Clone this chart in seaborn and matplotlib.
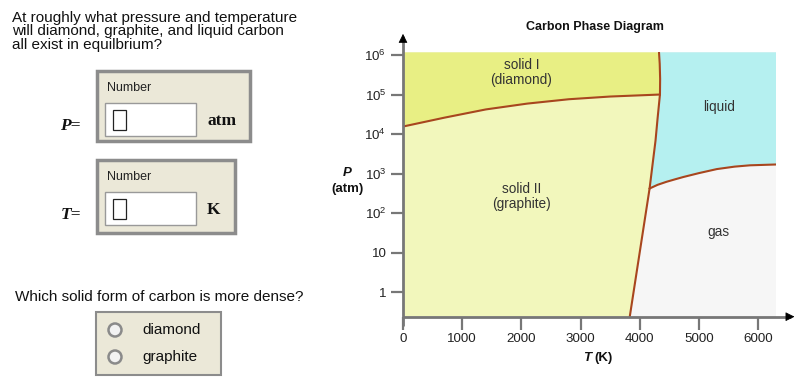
import numpy as np
import pandas as pd
import matplotlib
matplotlib.use("Agg")
import matplotlib.pyplot as plt
from matplotlib.patches import Rectangle, Circle
import seaborn as sns

sns.set_style("white")
plt.rcParams['font.family'] = ['Liberation Sans', 'DejaVu Sans']
plt.rcParams['mathtext.fontset'] = 'custom'
plt.rcParams['mathtext.rm'] = 'Liberation Sans'

# phase boundaries (T in K, P in atm)
diam_graph_T = [0, 700, 1400, 2100, 2800, 3500, 4340]
diam_graph_P = [15500, 26000, 42000, 59000, 76000, 89000, 100000]
diam_liq_T = [4340, 4343, 4336, 4324]
diam_liq_P = [100000, 250000, 600000, 1170000]
graph_liq_T = [4340, 4300, 4265, 4215, 4165]
graph_liq_P = [100000, 25000, 6800, 1700, 420]
graph_gas_T = [4165, 3830]
graph_gas_P = [420, 0.24]
liq_gas_T = [4165, 4300, 4450, 4600, 4735, 5000, 5300, 5600, 5860, 6300]
liq_gas_P = [420, 520, 620, 720, 820, 1030, 1300, 1500, 1620, 1700]

t_max = 6300
p_min, p_max = 0.24, 1170000

x_ticks = [0, 1000, 2000, 3000, 4000, 5000, 6000]
y_ticks = [1, 10, 100, 1000, 10000, 100000, 1000000]
y_labels = ["1", "10", "$10^2$", "$10^3$", "$10^4$", "$10^5$", "$10^6$"]

region_names = ["solid I\n(diamond)", "solid II\n(graphite)", "liquid", "gas"]
region_T = [2000, 2000, 5340, 5320]
region_P = [370000, 260, 47000, 33]

c_diamond = "#e8ef84"
c_graphite = "#f2f7bc"
c_liquid = "#b5f0f0"
c_gas = "#f6f6f6"
c_line = "#a8461e"
c_axis = "#777777"

W, H = 801, 388
fig = plt.figure(figsize=(W / 100, H / 100), dpi=100)

# ---- left side: question form, drawn in pixel coordinates ----
bg = fig.add_axes([0, 0, 1, 1])
bg.set_xlim(0, W)
bg.set_ylim(H, 0)
bg.axis("off")

bg.text(12, 11, "At roughly what pressure and temperature\nwill diamond, graphite, and liquid carbon\nall exist in equilbrium?",
        fontsize=11, va="top", ha="left", linespacing=0.95, color="#111")

serif = ["Liberation Serif", "DejaVu Serif"]
for (top, bot, right, sym, unit) in [(71, 141, 250, "P=", "atm"), (160, 233, 235, "T=", "K")]:
    bg.add_patch(Rectangle((97, top), right - 97, bot - top, facecolor="#ebe8d8",
                           edgecolor="#8c8c8c", lw=2.5))
    bg.text(107, top + 17, "Number", fontsize=9, va="center", ha="left", color="#222")
    box_top = top + 32
    bg.add_patch(Rectangle((105, box_top), 91, 33, facecolor="white", edgecolor="#999", lw=1))
    bg.add_patch(Rectangle((113, box_top + 7), 13, 20, facecolor="white", edgecolor="#222", lw=0.9))
    bg.text(207, box_top + 18, unit, fontsize=12.5, fontweight="bold", family=serif,
            va="center", ha="left", color="#111")
    bg.text(81, box_top + 23, sym, fontsize=12.5, fontweight="bold", fontstyle="italic", family=serif,
            va="center", ha="right", color="#111")

bg.text(15, 297, "Which solid form of carbon is more dense?", fontsize=11, va="center", ha="left", color="#111")
bg.add_patch(Rectangle((96, 312), 125, 63, facecolor="#ebe8d8", edgecolor="#8c8c8c", lw=1.5))
for yy, name in [(330, "diamond"), (357, "graphite")]:
    bg.add_patch(Circle((115, yy), 6.5, facecolor="#f2f2f2", edgecolor="#8a8a8a", lw=1.8))
    bg.text(142, yy, name, fontsize=11, va="center", ha="left", color="#111")

# ---- right side: phase diagram ----
x0, x1, y_top, y_bot = 403, 776, 52.3, 316.7
ax = fig.add_axes([x0 / W, (H - y_bot) / H, (x1 - x0) / W, (y_bot - y_top) / H])
ax.set_yscale("log")
ax.set_xlim(0, t_max)
ax.set_ylim(p_min, p_max)
ax.set_facecolor(c_gas)

# graphite region
gT = [0, graph_gas_T[1]] + graph_gas_T[::-1][1:] + graph_liq_T[::-1][1:] + diam_graph_T[::-1][1:]
gP = [p_min, graph_gas_P[1]] + graph_gas_P[::-1][1:] + graph_liq_P[::-1][1:] + diam_graph_P[::-1][1:]
ax.fill(gT, gP, color=c_graphite, lw=0)
# diamond region
dT = diam_graph_T + diam_liq_T[1:] + [0]
dP = diam_graph_P + diam_liq_P[1:] + [p_max]
ax.fill(dT, dP, color=c_diamond, lw=0)
# liquid region
lT = diam_liq_T + [t_max] + liq_gas_T[::-1] + graph_liq_T[::-1][1:]
lP = diam_liq_P + [p_max] + liq_gas_P[::-1] + graph_liq_P[::-1][1:]
ax.fill(lT, lP, color=c_liquid, lw=0)

for T, P in [(diam_graph_T, diam_graph_P), (diam_liq_T, diam_liq_P), (graph_liq_T, graph_liq_P),
             (graph_gas_T, graph_gas_P), (liq_gas_T, liq_gas_P)]:
    df = pd.DataFrame({"T": T, "P": P})
    sns.lineplot(data=df, x="T", y="P", sort=False, estimator=None, color=c_line, lw=1.5, ax=ax)

for name, t, p in zip(region_names, region_T, region_P):
    ax.text(t, p, name, ha="center", va="center", fontsize=9.8, color="#333", linespacing=1.1)

for s in ax.spines.values():
    s.set_visible(False)
ax.set_xticks(x_ticks)
ax.set_xticklabels([str(v) for v in x_ticks])
ax.set_yticks(y_ticks)
ax.set_yticklabels(y_labels)
ax.minorticks_off()
ax.tick_params(axis="both", length=9, width=1.6, color=c_axis, labelsize=9.6, labelcolor="#222",
               pad=3, bottom=True, left=True)
ax.set_xlabel("")
ax.set_ylabel("")

# axes with arrow heads
ax.plot([0, 1.04], [0, 0], transform=ax.transAxes, color=c_axis, lw=2, clip_on=False, solid_capstyle="butt")
ax.plot([0, 0], [-0.035, 1.06], transform=ax.transAxes, color=c_axis, lw=2, clip_on=False, solid_capstyle="butt")
ax.annotate("", xy=(1.057, 0), xytext=(1.02, 0), xycoords="axes fraction",
            arrowprops=dict(arrowstyle="-|>", color="black", lw=0.5, mutation_scale=14), annotation_clip=False)
ax.annotate("", xy=(0, 1.08), xytext=(0, 1.04), xycoords="axes fraction",
            arrowprops=dict(arrowstyle="-|>", color="black", lw=0.5, mutation_scale=14), annotation_clip=False)

bg.text(595, 27, "Carbon Phase Diagram", fontsize=9, fontweight="bold", ha="center", va="center", color="#111")
bg.text(347, 173, "P", fontsize=9.5, fontweight="bold", fontstyle="italic", ha="center", va="center", color="#111")
bg.text(347, 189, "(atm)", fontsize=9.5, fontweight="bold", ha="center", va="center", color="#111")
bg.text(591, 358, "T", fontsize=9.5, fontweight="bold", fontstyle="italic", ha="right", va="center", color="#111")
bg.text(594, 358, "(K)", fontsize=9.5, fontweight="bold", ha="left", va="center", color="#111")

fig.savefig("out.png", dpi=100)
